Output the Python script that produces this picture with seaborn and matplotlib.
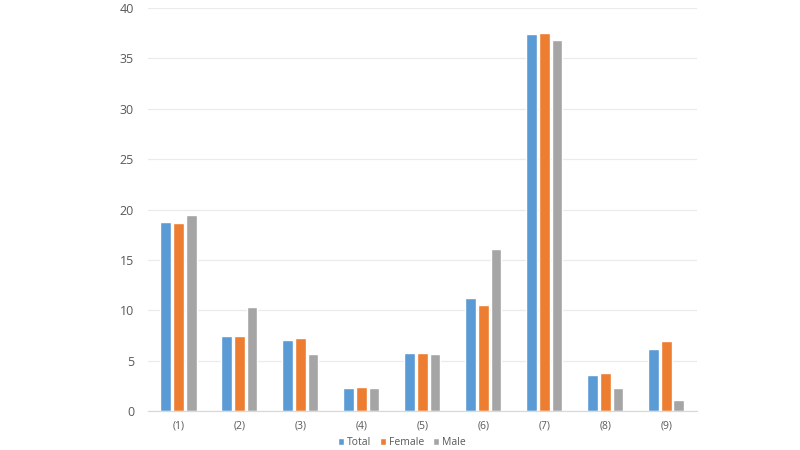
import matplotlib
matplotlib.use("Agg")
import matplotlib.pyplot as plt
import seaborn as sns
import pandas as pd

categories = ["(1)", "(2)", "(3)", "(4)", "(5)", "(6)", "(7)", "(8)", "(9)"]
total = [18.8, 7.4, 7.0, 2.3, 5.8, 11.2, 37.4, 3.6, 6.2]
female = [18.7, 7.4, 7.2, 2.4, 5.8, 10.5, 37.5, 3.8, 6.9]
male = [19.5, 10.3, 5.7, 2.3, 5.7, 16.1, 36.8, 2.3, 1.1]
series = ["Total", "Female", "Male"]
colors = ["#5B9BD5", "#ED7D31", "#A5A5A5"]
yticks = [0, 5, 10, 15, 20, 25, 30, 35, 40]

rows = []
for name, vals in zip(series, [total, female, male]):
    for c, v in zip(categories, vals):
        rows.append({"cat": c, "series": name, "value": v})
df = pd.DataFrame(rows)

sns.set_style("white")
plt.rcParams['font.family'] = ['Open Sans', 'DejaVu Sans']

fig = plt.figure(figsize=(8, 4.5), dpi=100)
ax = fig.add_axes([0.185, 0.0867, 0.686, 0.8953])

sns.barplot(data=df, x="cat", y="value", hue="series", order=categories,
            hue_order=series, palette=colors, width=0.62, gap=0.14,
            saturation=1, ax=ax, legend=True, errorbar=None)

ax.set_ylim(0, 40)
ax.set_xlim(-0.5, len(categories) - 0.5)
ax.set_yticks(yticks)
ax.set_yticklabels([str(t) for t in yticks])
ax.set_xlabel("")
ax.set_ylabel("")
ax.yaxis.grid(True, color="#EBEBEB", linewidth=0.9)
ax.set_axisbelow(True)
for s in ["top", "right", "left"]:
    ax.spines[s].set_visible(False)
ax.spines["bottom"].set_color("#D9D9D9")
ax.spines["bottom"].set_linewidth(0.9)
ax.tick_params(axis="y", length=0, pad=10, labelsize=9, labelcolor="#595959")
ax.tick_params(axis="x", length=0, pad=7, labelsize=7.5, labelcolor="#595959")

handles, labels = ax.get_legend_handles_labels()
ax.legend(handles, labels, loc="upper center", bbox_to_anchor=(0.463, -0.06),
          ncol=3, frameon=False, fontsize=7.5, handlelength=0.6, handleheight=0.6,
          handletextpad=0.3, columnspacing=0.8, labelcolor="#595959",
          borderaxespad=0, borderpad=0.2)

fig.savefig("out.png", dpi=100)
